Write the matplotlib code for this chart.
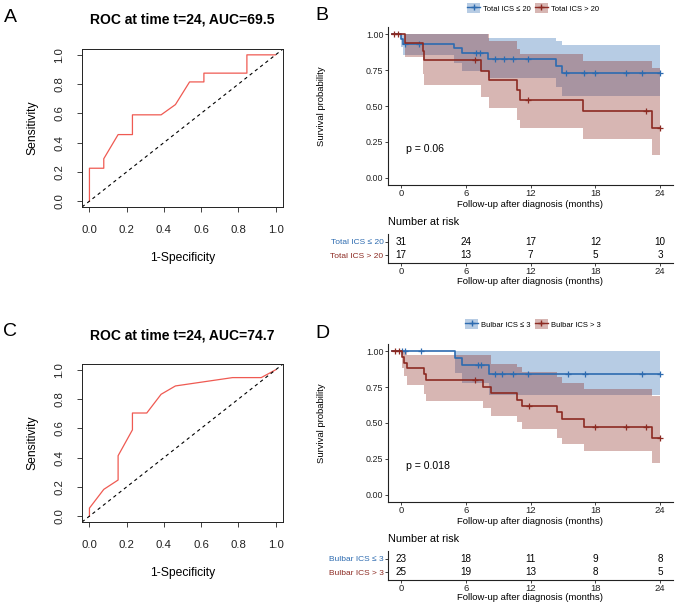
import numpy as np
import matplotlib
matplotlib.use("Agg")
import matplotlib.pyplot as plt
from matplotlib.lines import Line2D
from matplotlib.patches import Patch

plt.rcParams['font.family'] = ['Liberation Sans', 'DejaVu Sans']

W, H = 676, 606

# ---- ROC data (1-specificity, sensitivity) ----
roc_a_fpr = [0, 0, 0.077, 0.077, 0.154, 0.231, 0.231, 0.385, 0.462, 0.538, 0.615, 0.615, 0.846, 0.846, 1.0]
roc_a_tpr = [0, 0.225, 0.225, 0.29, 0.455, 0.455, 0.59, 0.59, 0.66, 0.815, 0.815, 0.875, 0.875, 1.0, 1.0]
roc_a_title = "ROC at time t=24, AUC=69.5"

roc_c_fpr = [0, 0, 0.077, 0.154, 0.154, 0.231, 0.231, 0.308, 0.385, 0.462, 0.769, 0.923, 1.0]
roc_c_tpr = [0, 0.055, 0.183, 0.247, 0.413, 0.59, 0.705, 0.705, 0.833, 0.89, 0.947, 0.947, 1.0]
roc_c_title = "ROC at time t=24, AUC=74.7"

# ---- Kaplan-Meier, panel B ----
b_labels = ["Total ICS \u2264 20", "Total ICS > 20"]
b_blue_t = [-0.8, 0.03, 0.15, 4.88, 5.66, 8.02, 14.35, 14.93, 24]
b_blue_s = [1.0, 0.968, 0.935, 0.901, 0.866, 0.827, 0.778, 0.730, 0.730]
b_blue_lo = [1.0, 0.91, 0.858, 0.80, 0.742, 0.694, 0.635, 0.572, 0.572]
b_blue_hi = [1.0, 1.0, 1.0, 1.0, 1.0, 0.973, 0.95, 0.926, 0.926]
b_blue_cens_t = [0.37, 1.7, 6.98, 7.35, 8.73, 9.5, 10.4, 11.8, 15.33, 17.0, 17.95, 20.87, 22.3, 24.0]
b_blue_cens_s = [0.935, 0.935, 0.866, 0.866, 0.827, 0.827, 0.827, 0.827, 0.730, 0.730, 0.730, 0.730, 0.730, 0.730]

b_red_t = [-0.8, 0.35, 2.03, 2.18, 7.41, 8.2, 10.73, 11.03, 16.87, 23.23, 24]
b_red_s = [1.0, 0.941, 0.882, 0.817, 0.747, 0.682, 0.612, 0.542, 0.465, 0.349, 0.349]
b_red_lo = [1.0, 0.84, 0.72, 0.649, 0.565, 0.484, 0.403, 0.345, 0.27, 0.158, 0.158]
b_red_hi = [1.0, 1.0, 1.0, 1.0, 1.0, 0.95, 0.90, 0.861, 0.81, 0.768, 0.768]
b_red_cens_t = [-0.61, -0.3, 6.82, 11.8, 22.7, 24.0]
b_red_cens_s = [1.0, 1.0, 0.817, 0.542, 0.465, 0.349]
b_pval = "p = 0.06"
b_risk_blue = [31, 24, 17, 12, 10]
b_risk_red = [17, 13, 7, 5, 3]

# ---- Kaplan-Meier, panel D ----
d_labels = ["Bulbar ICS \u2264 3", "Bulbar ICS > 3"]
d_blue_t = [-0.8, 5.03, 5.65, 8.13, 24]
d_blue_s = [1.0, 0.953, 0.905, 0.843, 0.843]
d_blue_lo = [1.0, 0.85, 0.78, 0.695, 0.695]
d_blue_hi = [1.0, 1.0, 1.0, 1.0, 1.0]
d_blue_cens_t = [0.09, 0.4, 1.88, 7.14, 7.44, 8.74, 9.36, 10.35, 11.8, 15.45, 17.05, 22.36, 24.0]
d_blue_cens_s = [1.0, 1.0, 1.0, 0.905, 0.905, 0.843, 0.843, 0.843, 0.843, 0.843, 0.843, 0.843, 0.843]

d_red_t = [-0.8, 0.09, 0.3, 0.53, 2.16, 2.29, 7.57, 8.31, 10.78, 11.18, 14.49, 14.95, 16.99, 23.29, 24]
d_red_s = [1.0, 0.96, 0.92, 0.88, 0.84, 0.80, 0.749, 0.707, 0.663, 0.616, 0.574, 0.527, 0.473, 0.398, 0.398]
d_red_lo = [1.0, 0.88, 0.83, 0.766, 0.70, 0.656, 0.602, 0.55, 0.508, 0.457, 0.398, 0.351, 0.304, 0.222, 0.222]
d_red_hi = [1.0, 1.0, 1.0, 0.975, 0.975, 0.975, 0.975, 0.913, 0.89, 0.855, 0.82, 0.777, 0.738, 0.685, 0.685]
d_red_cens_t = [-0.53, -0.21, 6.86, 11.89, 17.98, 20.85, 22.7, 24.0]
d_red_cens_s = [1.0, 1.0, 0.796, 0.616, 0.473, 0.473, 0.473, 0.398]
d_pval = "p = 0.018"
d_risk_blue = [23, 18, 11, 9, 8]
d_risk_red = [25, 19, 13, 8, 5]

time_ticks = [0, 6, 12, 18, 24]

BLUE = "#2D6BB0"
RED = "#8C2A22"
ROC_RED = "#EF5A52"
AXC = "#222222"

fig = plt.figure(figsize=(W / 100, H / 100), dpi=100)


def px_axes(x0, y0, x1, y1):
    return fig.add_axes([x0 / W, 1 - y1 / H, (x1 - x0) / W, (y1 - y0) / H])


def ptext(x, y, s, **kw):
    kw.setdefault("va", "center")
    kw.setdefault("ha", "center")
    return fig.text(x / W, 1 - y / H, s, **kw)


def roc_panel(top, fpr, tpr, title, letter):
    ax = px_axes(82, top, 283, top + 158)
    ax.plot(fpr, tpr, color=ROC_RED, lw=0.9)
    ax.plot([-0.04, 1.04], [-0.04, 1.04], color="black", lw=0.8, ls=(0, (3, 3)))
    ax.set_xlim(-0.04, 1.04)
    ax.set_ylim(-0.04, 1.04)
    ticks = [0, 0.2, 0.4, 0.6, 0.8, 1.0]
    labs = ["%.1f" % t for t in ticks]
    ax.set_xticks(ticks)
    ax.set_xticklabels(labs, fontsize=8.2)
    ax.set_yticks(ticks)
    ax.set_yticklabels(labs, fontsize=8.2, rotation=90, va="center")
    ax.tick_params(length=3.6, width=0.6, pad=9, colors="#222222")
    for sp in ax.spines.values():
        sp.set_linewidth(0.7)
        sp.set_color("#222222")
    ptext(182.5, top - 29, title, fontsize=10, fontweight="bold")
    ptext(183, top + 209, "1-Specificity", fontsize=8.7)
    ptext(32, top + 79, "Sensitivity", fontsize=8.7, rotation=90)
    ptext(10, top - 32, letter, fontsize=14)
    return ax


def style_km_axis(a):
    a.set_xlim(-1.2, 25.2)
    a.set_xticks(time_ticks)
    a.set_xticklabels([str(v) for v in time_ticks], fontsize=6.8)
    a.tick_params(length=2.2, width=0.6, pad=1, colors=AXC)
    for sp in ["top", "right"]:
        a.spines[sp].set_visible(False)
    for sp in ["left", "bottom"]:
        a.spines[sp].set_linewidth(0.8)
        a.spines[sp].set_color(AXC)


def km_panel(top, blue, red, labels, pval, risk_blue, risk_red, letter, leg_y):
    # main survival axes
    ax = px_axes(388, top, 673, top + 158)
    for (t, s, lo, hi, ct, cs), col in zip([blue, red], [BLUE, RED]):
        ax.fill_between(t, lo, hi, step="post", color=col, alpha=0.34, lw=0)
    for (t, s, lo, hi, ct, cs), col in zip([blue, red], [BLUE, RED]):
        ax.step(t, s, where="post", color=col, lw=1.2)
        ax.plot(ct, cs, ls="none", marker="+", ms=5, mew=0.9, color=col)
    style_km_axis(ax)
    ax.set_ylim(-0.05, 1.05)
    ax.set_yticks([0, 0.25, 0.5, 0.75, 1.0])
    ax.set_yticklabels(["0.00", "0.25", "0.50", "0.75", "1.00"], fontsize=6.4)
    ax.text(0.45, 0.2, pval, fontsize=7.6, ha="left", va="center")
    ptext(530, top + 177, "Follow-up after diagnosis (months)", fontsize=6.8)
    ptext(322, top + 79, "Survival probability", fontsize=6.8, rotation=90)
    ptext(322, top - 11, letter, fontsize=14)

    handles = [(Patch(facecolor=BLUE, alpha=0.34, lw=0), Line2D([], [], color=BLUE, lw=1, marker="+", ms=5)),
               (Patch(facecolor=RED, alpha=0.34, lw=0), Line2D([], [], color=RED, lw=1, marker="+", ms=5))]
    fig.legend(handles, labels, loc="center", bbox_to_anchor=(533 / W, 1 - leg_y / H), ncol=2,
               frameon=False, fontsize=5.5, handlelength=1.7, handleheight=1.5, columnspacing=0.5,
               handletextpad=0.4, borderpad=0.1)

    # risk table
    rt_top = top + 207
    tx = px_axes(388, rt_top, 673, rt_top + 29)
    style_km_axis(tx)
    tx.set_ylim(0.4, 2.6)
    for x, nb, nr in zip(time_ticks, risk_blue, risk_red):
        tx.text(x, 2, str(nb), ha="center", va="center", fontsize=7.1)
        tx.text(x, 1, str(nr), ha="center", va="center", fontsize=7.1)
    tx.set_yticks([1, 2])
    tx.set_yticklabels([labels[1], labels[0]], fontsize=6)
    for lab, col in zip(tx.get_yticklabels(), [RED, BLUE]):
        lab.set_color(col)
    fig.text(388 / W, 1 - (top + 195) / H, "Number at risk", fontsize=7.8, ha="left", va="center")
    ptext(530, top + 254, "Follow-up after diagnosis (months)", fontsize=6.8)
    return ax


roc_panel(49, roc_a_fpr, roc_a_tpr, roc_a_title, "A")
roc_panel(364, roc_c_fpr, roc_c_tpr, roc_c_title, "C")

km_panel(27,
         (b_blue_t, b_blue_s, b_blue_lo, b_blue_hi, b_blue_cens_t, b_blue_cens_s),
         (b_red_t, b_red_s, b_red_lo, b_red_hi, b_red_cens_t, b_red_cens_s),
         b_labels, b_pval, b_risk_blue, b_risk_red, "B", 8)
km_panel(344,
         (d_blue_t, d_blue_s, d_blue_lo, d_blue_hi, d_blue_cens_t, d_blue_cens_s),
         (d_red_t, d_red_s, d_red_lo, d_red_hi, d_red_cens_t, d_red_cens_s),
         d_labels, d_pval, d_risk_blue, d_risk_red, "D", 324)

fig.savefig("out.png", dpi=100)
